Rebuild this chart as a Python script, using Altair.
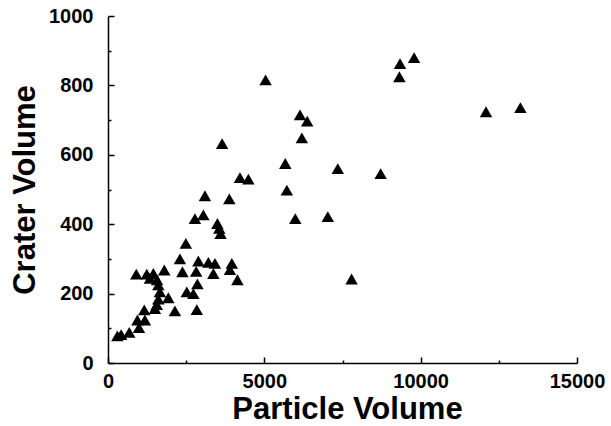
import altair as alt
import pandas as pd

particle_volume = [
    300, 420, 680, 990, 940, 1180, 1160, 1500, 1560, 1610, 1930, 2140, 2840,
    2520, 2730, 2860, 1660, 1610, 1570, 905, 1240, 1340, 1450, 1800, 2300,
    2380, 2490, 2890, 2820, 3210, 3420, 3370, 3960, 3900, 4140,
    2780, 3050, 3500, 3560, 3600, 3100, 3880, 3650, 4220, 4490, 5040,
    5670, 5720, 5990, 6140, 6370, 6200, 7030, 7350, 7790, 8720,
    9320, 9340, 9790, 12090, 13190,
]
crater_volume = [
    78, 82, 88, 102, 124, 124, 153, 157, 168, 184, 188, 150, 154,
    205, 200, 228, 205, 225, 240, 256, 256, 244, 258, 268, 300,
    263, 345, 294, 264, 290, 287, 258, 287, 269, 240,
    416, 427, 402, 388, 373, 482, 473, 632, 534, 530, 816,
    575, 498, 416, 715, 697, 649, 422, 560, 242, 546,
    825, 863, 880, 724, 736,
]

x_ticks = [0, 2500, 5000, 7500, 10000, 12500, 15000]
y_ticks = [0, 100, 200, 300, 400, 500, 600, 700, 800, 900, 1000]

df = pd.DataFrame({"Particle Volume": particle_volume, "Crater Volume": crater_volume})

FONT = "Liberation Sans"

x_axis = alt.Axis(
    values=x_ticks,
    format="d",
    labelExpr="datum.value % 5000 === 0 ? datum.label : ''",
    labelFlush=False,
    grid=False,
    tickSize={"expr": "datum.value % 5000 === 0 ? -6 : -3"},
    labelPadding=14,
    titleX=239,
    titleY=55,
    titleBaseline="alphabetic",
)
y_axis = alt.Axis(
    values=y_ticks,
    format="d",
    labelExpr="datum.value % 200 === 0 ? datum.label : ''",
    labelFlush=False,
    grid=False,
    tickSize={"expr": "datum.value % 200 === 0 ? -6 : -3"},
    labelPadding=21,
    titleX=-74,
    titleY=173.5,
    titleBaseline="alphabetic",
)

chart = (
    alt.Chart(df)
    .mark_point(shape="triangle-up", filled=True, color="black", size=156, opacity=1)
    .encode(
        x=alt.X("Particle Volume:Q", scale=alt.Scale(domain=[0, 15000], nice=False), axis=x_axis),
        y=alt.Y("Crater Volume:Q", scale=alt.Scale(domain=[0, 1000], nice=False), axis=y_axis),
    )
    .properties(
        width=469,
        height=347,
        padding={"left": 108, "top": 16, "right": 34, "bottom": 63},
        autosize=alt.AutoSizeParams(type="none"),
        background="white",
    )
    .configure_view(stroke=None)
    .configure_axis(
        domainColor="black",
        domainWidth=1.5,
        tickColor="black",
        tickWidth=1.5,
        labelFont=FONT,
        labelFontSize=20,
        labelFontWeight="bold",
        labelColor="black",
        titleFont=FONT,
        titleFontSize=31,
        titleFontWeight="bold",
        titleColor="black",
    )
)

chart.save("out.html", embed_options={"renderer": "svg", "actions": False})
